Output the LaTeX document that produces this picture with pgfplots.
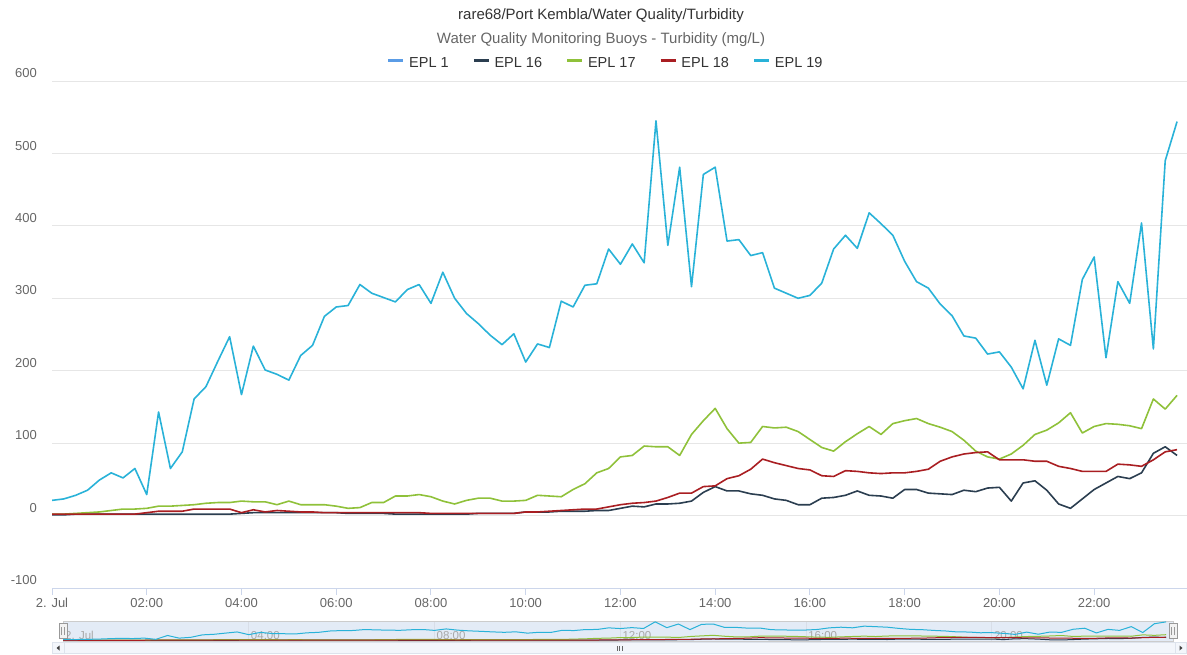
\documentclass[border=0pt]{standalone}
\usepackage{fontspec}
\setmainfont{Liberation Sans}
\usepackage{pgfplots}
\usepackage{pgfplotstable}
\pgfplotsset{compat=1.18}
\definecolor{cA}{HTML}{5A9CE6}
\definecolor{cB}{HTML}{2B3E50}
\definecolor{cC}{HTML}{8FC13A}
\definecolor{cD}{HTML}{A91E22}
\definecolor{cE}{HTML}{29B2D8}
\definecolor{titlec}{HTML}{333333}
\definecolor{subc}{HTML}{666666}
\definecolor{gridc}{HTML}{E6E6E6}
\definecolor{axisc}{HTML}{CCD6EB}
\definecolor{navfill}{HTML}{E3EBF6}
\definecolor{navline}{HTML}{CCCCCC}
\definecolor{navgrid}{HTML}{D8DEE8}
\definecolor{navtext}{HTML}{A8A8A8}
\definecolor{handlefill}{HTML}{F2F2F2}
\definecolor{handledraw}{HTML}{999999}
\definecolor{scrollfill}{HTML}{F3F6FB}
\definecolor{scrollline}{HTML}{DDE3EC}

\pgfplotstableread{
t e16 e17 e18 e19
0.00 1 2 2 21
0.25 1 2 2 23
0.50 2 3 2 28
0.75 2 4 2 35
1.00 2 5 2 49
1.25 2 7 2 59
1.50 2 9 2 52
1.75 2 9 2 65
2.00 2 10 4 29
2.25 2 13 6 143
2.50 2 13 6 65
2.75 2 14 6 88
3.00 2 15 9 161
3.25 2 17 9 178
3.50 2 18 9 213
3.75 2 18 9 247
4.00 3 20 4 167
4.25 4 19 8 234
4.50 4 19 5 201
4.75 4 15 7 195
5.00 4 20 6 187
5.25 4 15 5 221
5.50 4 15 5 235
5.75 4 15 4 275
6.00 4 13 4 288
6.25 3 10 4 290
6.50 3 11 4 319
6.75 3 18 4 307
7.00 3 18 4 301
7.25 2 27 4 295
7.50 2 27 4 312
7.75 2 29 4 319
8.00 2 26 3 293
8.25 2 20 3 336
8.50 2 16 3 300
8.75 2 21 3 279
9.00 3 24 3 265
9.25 3 24 3 249
9.50 3 20 3 236
9.75 3 20 3 251
10.00 5 21 5 212
10.25 5 28 5 237
10.50 5 27 6 232
10.75 6 26 7 296
11.00 6 36 8 288
11.25 6 44 9 318
11.50 7 59 9 320
11.75 7 65 12 368
12.00 10 81 15 347
12.25 13 83 17 375
12.50 12 96 18 349
12.75 16 95 20 545
13.00 16 95 25 373
13.25 17 83 31 481
13.50 20 112 31 316
13.75 32 131 40 471
14.00 40 148 41 481
14.25 34 120 51 379
14.50 34 100 55 381
14.75 30 101 64 359
15.00 28 123 78 363
15.25 23 121 73 314
15.50 21 122 69 307
15.75 15 116 65 300
16.00 15 105 63 304
16.25 24 94 55 321
16.50 25 89 54 368
16.75 28 102 62 387
17.00 34 113 61 369
17.25 28 123 59 418
17.50 27 112 58 403
17.75 24 127 59 387
18.00 36 131 59 351
18.25 36 134 61 323
18.50 31 127 64 314
18.75 30 122 75 292
19.00 29 116 81 276
19.25 35 104 85 248
19.50 33 89 87 245
19.75 38 81 88 223
20.00 39 78 77 226
20.25 20 85 77 205
20.50 45 97 77 175
20.75 48 112 75 242
21.00 35 118 75 180
21.25 16 128 68 244
21.50 10 142 65 235
21.75 23 114 61 326
22.00 36 123 61 357
22.25 45 127 61 218
22.50 54 126 71 323
22.75 51 124 70 293
23.00 59 120 68 404
23.25 86 161 77 230
23.50 95 147 88 490
23.75 83 166 91 544
}\data

\begin{document}
\begin{tikzpicture}[x=1pt,y=1pt]
\useasboundingbox (0,0) rectangle (1187,654);
\node[font=\fontsize{15}{17}\selectfont, text=titlec] at (601,638.5) {rare68/Port Kembla/Water Quality/Turbidity};
\node[font=\fontsize{15}{17}\selectfont, text=subc] at (601,614.5) {Water Quality Monitoring Buoys - Turbidity (mg/L)};

\begin{axis}[
  at={(52pt,66pt)}, anchor=south west,
  scale only axis, width=1135pt, height=507pt,
  xmin=0, xmax=23.96, ymin=-100, ymax=600,
  ytick={-100,0,100,200,300,400,500,600},
  yticklabels={-100,0,100,200,300,400,500,600},
  xtick={0,2,...,22},
  xticklabels={2. Jul,02:00,04:00,06:00,08:00,10:00,12:00,14:00,16:00,18:00,20:00,22:00},
  ymajorgrids, grid style={draw=gridc, line width=1pt},
  axis x line*=bottom, axis y line*=left,
  x axis line style={draw=axisc, line width=1pt, -},
  y axis line style={draw=none},
  ytick style={draw=none},
  xtick style={draw=axisc, line width=1pt},
  tick align=outside, major tick length=7pt,
  yticklabel style={anchor=south east, inner sep=0pt, xshift=-8pt, yshift=3pt, font=\fontsize{13}{15}\selectfont, text=subc},
  xticklabel style={font=\fontsize{13}{15}\selectfont, text=subc},
  legend style={at={(axis description cs:0.488,1)}, anchor=center, yshift=17.5pt,
    draw=none, fill=none, font=\fontsize{14.5}{16}\selectfont, text=titlec,
    /tikz/every even column/.append style={column sep=22pt}},
  legend columns=-1,
  legend image code/.code={\draw[#1, line width=2.2pt] (0pt,3pt) -- (15pt,3pt); \path (18pt,0pt);},
  every axis plot/.append style={line width=1.6pt, line join=round},
]
\addlegendimage{cA}\addlegendentry{EPL 1}
\addplot[cB, mark=none] table[x=t,y=e16] {\data};\addlegendentry{EPL 16}
\addplot[cC, mark=none] table[x=t,y=e17] {\data};\addlegendentry{EPL 17}
\addplot[cD, mark=none] table[x=t,y=e18] {\data};\addlegendentry{EPL 18}
\addplot[cE, mark=none] table[x=t,y=e19] {\data};\addlegendentry{EPL 19}
\end{axis}

\begin{axis}[
  at={(63pt,13pt)}, anchor=south west,
  scale only axis, width=1110pt, height=20pt,
  xmin=0, xmax=23.9, ymin=-20, ymax=570,
  axis background/.style={fill=navfill},
  axis line style={draw=navline, line width=0.8pt},
  xtick={0,4,...,20},
  xticklabels={2. Jul,04:00,08:00,12:00,16:00,20:00},
  ytick=\empty,
  xmajorgrids, grid style={draw=navgrid, line width=0.8pt},
  xtick style={draw=none},
  xticklabel style={anchor=south west, xshift=2pt, yshift=1pt, inner sep=0pt, font=\fontsize{11.5}{12}\selectfont, text=navtext},
  every axis plot/.append style={line width=1pt},
]
\addplot[cB, mark=none] table[x=t,y=e16] {\data};
\addplot[cC, mark=none] table[x=t,y=e17] {\data};
\addplot[cD, mark=none] table[x=t,y=e18] {\data};
\addplot[cE, mark=none] table[x=t,y=e19] {\data};
\end{axis}

% navigator handles
\foreach \hx in {63,1173}{
  \draw[fill=handlefill, draw=handledraw, line width=0.8pt] (\hx-4,15.5) rectangle (\hx+4,30.5);
  \draw[handledraw, line width=0.7pt] (\hx-1.2,19) -- (\hx-1.2,27) (\hx+1.2,19) -- (\hx+1.2,27);
}
% scrollbar
\draw[fill=scrollfill, draw=scrollline, line width=0.6pt] (52,0.5) rectangle (1186.5,11.5);
\draw[scrollline, line width=0.6pt] (64,0.5) -- (64,11.5) (1175,0.5) -- (1175,11.5);
\fill[black!75] (56.5,6) -- (59.5,8.5) -- (59.5,3.5) -- cycle;
\fill[black!75] (1182.5,6) -- (1179.5,8.5) -- (1179.5,3.5) -- cycle;
\draw[black!60, line width=0.6pt] (617,3.5) -- (617,8.5) (619.5,3.5) -- (619.5,8.5) (622,3.5) -- (622,8.5);
\end{tikzpicture}
\end{document}
